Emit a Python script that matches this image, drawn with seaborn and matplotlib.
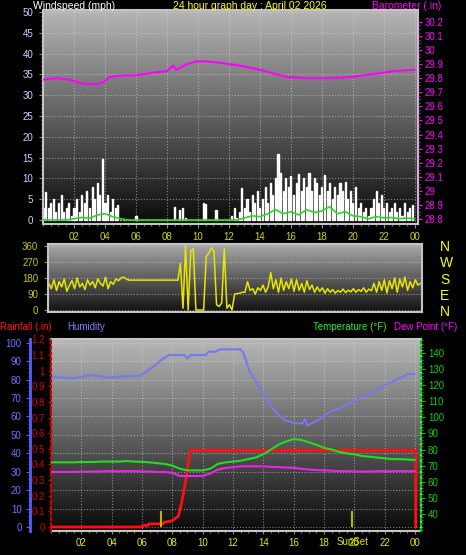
import numpy as np
import pandas as pd
import matplotlib
matplotlib.use("Agg")
import matplotlib.pyplot as plt
import seaborn as sns

sns.set_style("dark")
plt.rcParams['font.family'] = ['Liberation Sans', 'DejaVu Sans']

# ---- data ----
# wind gust, mph, every 10 minutes (one row per hour)
wind_gust = [
    3, 6.8, 3, 4, 5, 2,
    4, 6, 2, 3, 4, 1,
    3, 5, 2, 6, 4, 7,
    3, 8, 5, 9, 6, 14.6,
    4, 6, 2, 5, 3, 3.5,
    0, 0, 0, 0, 0, 0,
    1, 0, 0, 0, 0, 0,
    0, 0, 0, 0, 0, 0,
    0, 0, 0, 3.2, 0, 2.5,
    3, 0.5, 0, 0, 0, 0,
    0, 0, 4, 3.8, 0, 0,
    0, 2.5, 0, 0, 0, 0,
    0, 1, 3, 0.5, 2, 7.7,
    3, 5, 2, 6, 4, 7,
    3, 5, 8, 4, 9, 6,
    10, 15.9, 11.3, 7, 10, 8,
    10.5, 6, 9, 11, 7, 10,
    8, 11.3, 7, 10, 9, 6,
    8, 10.8, 7, 9, 5, 8,
    6, 9, 7, 9.2, 5, 7,
    4, 8, 3, 4, 2, 3,
    1, 3, 5, 7, 4, 6,
    3, 4, 2, 3, 4, 2,
    3, 1, 4, 2, 3, 3.5,
]
# average wind, mph, every 30 minutes
wind_avg = [0, 0, 0, 0, 0.3, 0.6, 0.4, 1.2, 1.5, 0.8, 0.3, 0,
            0, 0, 0, 0, 0, 0, 0, 0, 0, 0, 0, 0, 0,
            0, 0.5, 1.0, 0.8, 1.5, 2.5, 1.5, 2.0, 1.2, 2.5, 1.8, 2.2,
            3.2, 1.5, 2.0, 1.0, 0.8, 0.3, 0.8, 0.5, 0.6, 0.3, 0.5, 0.3]

baro_hours = [0, 0.9, 1.7, 2.6, 3.5, 3.9, 4.3, 5.2, 6.0, 7.1, 8.0, 8.4, 8.6,
              9.3, 9.9, 10.6, 11.4, 12.7, 14.0, 15.7, 17.0, 18.7, 20.0, 21.3,
              22.6, 24.0]
baro_values = [29.79, 29.80, 29.79, 29.76, 29.76, 29.77, 29.81, 29.82, 29.82,
               29.84, 29.85, 29.89, 29.86, 29.90, 29.92, 29.92, 29.91, 29.89,
               29.86, 29.81, 29.80, 29.80, 29.81, 29.83, 29.85, 29.86]

# wind direction, degrees, every 10 minutes
dir_values = [
    150, 120, 170, 110, 160, 130,
    175, 105, 140, 165, 120, 180,
    130, 150, 115, 170, 140, 160,
    125, 175, 150, 135, 185, 120,
    160, 145, 175, 165, 180, 185,
    175, 168, 168, 168, 168, 168,
    168, 168, 168, 168, 168, 168,
    168, 168, 168, 168, 168, 168,
    168, 168, 168, 262, 10, 360,
    0, 330, 345, 0, 0, 0,
    0, 300, 320, 350, 330, 30,
    20, 40, 345, 10, 30, 0,
    90, 92, 95, 100, 100, 160,
    110, 120, 90, 125, 110, 140,
    100, 130, 210, 120, 170, 100,
    180, 110, 160, 120, 175, 105,
    170, 110, 150, 100, 165, 115,
    140, 100, 130, 105, 125, 95,
    120, 100, 115, 95, 110, 100,
    118, 98, 112, 102, 120, 100,
    115, 105, 125, 100, 118, 108,
    150, 100, 160, 110, 170, 95,
    165, 120, 180, 100, 175, 130,
    185, 110, 160, 125, 170, 140,
    150,
]

# temperature and dew point, F, every 30 minutes
temp_values = [72, 72, 72, 72, 72.2, 72.2, 72.3, 72.5, 72.5, 72.5, 72.8, 72.5,
               72.3, 72, 71.5, 71, 70, 68, 67, 67, 67, 68, 71, 72, 72.5, 73,
               74, 75, 77, 80, 83, 85, 86.5, 86, 84.5, 83, 81, 80, 78.5, 77.5,
               77, 76, 75.5, 75, 74.5, 74, 74, 73.8, 73.5]
dew_values = [66, 66, 66, 66, 66.2, 66.2, 66.3, 66.5, 66.5, 66.5, 66.5, 66.5,
              66.3, 66.3, 66, 66, 65.5, 63.5, 63.5, 63.5, 63.5, 65, 67.5, 68.5,
              69, 69.5, 69.5, 69.5, 69.5, 69.2, 69, 68.8, 68.5, 68, 67.5, 67.2,
              67, 66.8, 66.5, 66.5, 66.3, 66.3, 66.3, 66.5, 66.5, 66.5, 66.5,
              66.5, 66.5]

hum_hours = [0, 1.5, 2.6, 3.9, 5.2, 5.9, 6.1, 6.9, 7.4, 7.8, 8.8, 9.0, 9.2,
             10.2, 10.4, 10.9, 11.1, 12.5, 12.7, 13.1, 13.6, 14.1, 14.8, 15.4,
             16.1, 16.6, 16.75, 16.9, 17.7, 18.4, 19.0, 19.9, 21.0, 22.0, 23.0,
             23.5, 24.0]
hum_values = [81.5, 80.7, 82.5, 81, 82, 82, 83.4, 87.9, 91.5, 93.3, 93.3, 91.5,
              93.3, 93.3, 95.1, 95.1, 96.4, 96.4, 94.2, 84.3, 78, 70.7, 62.6,
              58, 56.3, 56.3, 58.6, 55, 58.4, 62.6, 64.4, 68, 72.5, 77, 80.7,
              83, 83]

rain_hours = [0, 6.0, 6.05, 6.4, 6.45, 7.4, 7.45, 8.0, 8.4, 8.6, 8.8, 9.0,
              9.1, 9.2, 24.05, 24.05]
rain_values = [0, 0, 0.01, 0.01, 0.02, 0.02, 0.03, 0.04, 0.07, 0.15, 0.25,
               0.37, 0.45, 0.49, 0.49, 0]

sunrise, sunset = 7.25, 19.85
hour_ticks = list(range(2, 25, 2))
hour_labels = ['02', '04', '06', '08', '10', '12', '14', '16', '18', '20', '22', '00']

gust_hours = np.arange(len(wind_gust)) / 6
dir_hours = np.arange(len(dir_values)) / 6
half_hours = np.arange(len(temp_values)) / 2

# ---- figure ----
W, H = 466, 555
fig = plt.figure(figsize=(W / 100, H / 100), dpi=100, facecolor='black')


def panel(x0, y0, x1, y1):
    return fig.add_axes([x0 / W, 1 - y1 / H, (x1 - x0) / W, (y1 - y0) / H])


def shade(ax, top, bottom):
    g = np.linspace(bottom, top, 200).reshape(-1, 1)
    ax.imshow(g, extent=[0, 1, 0, 1], transform=ax.transAxes, origin='lower',
              aspect='auto', cmap='gray', vmin=0, vmax=1, zorder=0)


def frame(ax, color='#c4c4c4'):
    for s in ax.spines.values():
        s.set_visible(True)
        s.set_color(color)
        s.set_linewidth(1.5)


def label(x, y, s, color, size=7.5, ha='left'):
    fig.text(x / W, 1 - y / H, s, color=color, fontsize=size, ha=ha, va='center')


grid_kw = dict(color='#dcdcdc', ls=':', lw=0.8, alpha=0.55)

# 1. wind + barometer
ax_w = panel(43, 10, 418, 224)
shade(ax_w, 0.71, 0.04)
ax_w.bar(gust_hours, wind_gust, width=0.07, color='#f0f0f0', zorder=2)
sns.lineplot(x=half_hours, y=wind_avg, ax=ax_w, color='#22dd22', lw=1.2, zorder=3)
ax_w.set_xlim(0, 24.2)
ax_w.set_ylim(-0.96, 50.5)
ax_w.set_xticks(hour_ticks)
ax_w.set_xticklabels(hour_labels)
ax_w.set_xticks(np.arange(0, 24.5, 0.5), minor=True)
ax_w.set_yticks(range(0, 51, 5))
ax_w.set_yticks(range(0, 51, 1), minor=True)
ax_w.tick_params(axis='x', which='both', bottom=True, colors='#8c8c8c',
                 labelcolor='#d4d400', labelsize=7, length=3, pad=3)
ax_w.tick_params(axis='y', which='both', left=True, colors='#8c8c8c',
                 labelcolor='#c8d4ff', labelsize=7, length=3, pad=4)
ax_w.tick_params(which='minor', length=1.5)
ax_w.grid(True, which='major', **grid_kw)
ax_w.set_xlabel('')
ax_w.set_ylabel('')
frame(ax_w)

ax_b = ax_w.twinx()
sns.lineplot(x=baro_hours, y=baro_values, ax=ax_b, color='#ff00ff', lw=1.5,
             estimator=None, sort=False)
ax_b.set_ylim(28.764, 30.285)
baro_ticks = np.round(np.arange(28.8, 30.21, 0.1), 1)
ax_b.set_yticks(baro_ticks)
ax_b.set_yticklabels([f'{v:g}' for v in baro_ticks])
ax_b.set_yticks(np.arange(28.8, 30.21, 0.025), minor=True)
ax_b.tick_params(axis='y', which='both', right=True, left=False, colors='#ff00ff',
                 labelcolor='#ff00ff', labelsize=7, length=3, pad=2)
ax_b.tick_params(which='minor', length=1.5)
ax_b.set_ylabel('')
for s in ax_b.spines.values():
    s.set_visible(False)
ax_w.set_xlim(0, 24.2)

# 2. wind direction
ax_d = panel(48, 244, 422, 312)
shade(ax_d, 0.66, 0.07)
sns.lineplot(x=dir_hours, y=dir_values, ax=ax_d, color='#e6e600', lw=1.1,
             estimator=None, sort=False)
ax_d.set_xlim(-0.05, 24.1)
ax_d.set_ylim(-11, 371)
ax_d.set_yticks([0, 90, 180, 270, 360])
ax_d.set_xticks([])
ax_d.tick_params(axis='y', left=True, colors='#8c8c8c', labelcolor='#c8c800',
                 labelsize=7, length=3, pad=4)
ax_d.grid(True, axis='y', **grid_kw)
ax_d.set_ylabel('')
frame(ax_d)
sec = ax_d.secondary_yaxis('right')
sec.set_yticks([0, 90, 180, 270, 360], labels=['N', 'E', 'S', 'W', 'N'])
sec.tick_params(length=0, pad=13, labelsize=10, labelcolor='#ffff00')
sec.spines['right'].set_visible(False)

# 3. humidity / rain / temperature / dew point
ax_h = panel(51, 339, 421, 531)
shade(ax_h, 0.72, 0.04)
sns.lineplot(x=hum_hours, y=hum_values, ax=ax_h, color='#7878f0', lw=1.5,
             estimator=None, sort=False)
ax_h.set_xlim(0, 24.4)
ax_h.set_ylim(-2.17, 102)
ax_h.set_xticks(hour_ticks)
ax_h.set_xticklabels(hour_labels)
ax_h.set_xticks(np.arange(0, 24.5, 0.5), minor=True)
ax_h.set_yticks(range(0, 101, 10))
ax_h.set_yticks(range(0, 101, 2), minor=True)
ax_h.tick_params(axis='x', which='both', bottom=True, colors='#8c8c8c',
                 labelcolor='#e6e600', labelsize=7, length=2.5, pad=2.5)
ax_h.tick_params(axis='y', which='both', left=True, colors='#5c5cff',
                 labelcolor='#7070ff', labelsize=7, length=3, pad=3)
ax_h.tick_params(which='minor', length=1.5)
ax_h.grid(True, which='major', **grid_kw)
ax_h.set_ylabel('')
frame(ax_h)
ax_h.spines['left'].set_position(('axes', -21 / 370))
ax_h.spines['left'].set_color('#5c5cff')
ax_h.spines['left'].set_linewidth(2)
ax_h.annotate('SunSet', xy=(sunset, 0), xycoords=('data', 'axes fraction'),
              xytext=(0, -8), textcoords='offset points', ha='center', va='center',
              color='#e6e600', fontsize=7)

ax_r = ax_h.twinx()
sns.lineplot(x=rain_hours, y=rain_values, ax=ax_r, color='#ff1010', lw=2,
             estimator=None, sort=False)
ax_r.vlines([sunrise, sunset], 0, 0.1, color='#b8b800', lw=1.5)
ax_r.set_ylim(-0.0256, 1.203)
rain_ticks = np.round(np.arange(0, 1.21, 0.1), 1)
ax_r.set_yticks(rain_ticks)
ax_r.set_yticklabels([f'{v:g}' for v in rain_ticks])
ax_r.set_yticks(np.arange(0, 1.21, 0.025), minor=True)
ax_r.yaxis.set_ticks_position('left')
ax_r.tick_params(axis='y', which='both', left=True, right=False, labelleft=True,
                 labelright=False, colors='#d00000', labelcolor='#d00000',
                 labelsize=7, length=2.5, pad=2)
ax_r.tick_params(which='minor', length=1.2)
ax_r.set_ylabel('')
for name, s in ax_r.spines.items():
    s.set_visible(name == 'left')
ax_r.spines['left'].set_color('#d00000')
ax_r.spines['left'].set_linestyle(':')
ax_r.spines['left'].set_linewidth(1.5)

ax_t = ax_h.twinx()
sns.lineplot(x=half_hours, y=temp_values, ax=ax_t, color='#22dd22', lw=1.5)
sns.lineplot(x=half_hours, y=dew_values, ax=ax_t, color='#ee22ee', lw=1.5)
ax_t.set_ylim(29.2, 148.9)
ax_t.set_yticks(range(40, 141, 10))
ax_t.set_yticks(range(30, 149, 2), minor=True)
ax_t.tick_params(axis='y', which='both', right=True, left=False, colors='#00c800',
                 labelcolor='#00d000', labelsize=7, length=3, pad=2)
ax_t.tick_params(which='minor', length=1.5)
ax_t.set_ylabel('')
for name, s in ax_t.spines.items():
    s.set_visible(name == 'right')
ax_t.spines['right'].set_color('#00c800')
ax_t.spines['right'].set_linestyle(':')
ax_t.spines['right'].set_linewidth(1.5)
ax_h.set_xlim(0, 24.4)

# ---- headings ----
label(33, 6, 'Windspeed (mph)', 'white')
label(250, 6, '24 hour graph day : April 02 2026', '#ffff00', ha='center')
label(372, 6, 'Barometer (.in)', '#ff00ff')
label(0, 327, 'Rainfall (.in)', '#ff1010', size=7)
label(67, 327, 'Humidity', '#8080ff', size=7)
label(313, 327, 'Temperature (°F)', '#22ee22', size=7)
label(394, 327, 'Dew Point (°F)', '#ff00ff', size=7)

fig.savefig('out.png', dpi=100, facecolor='black')
